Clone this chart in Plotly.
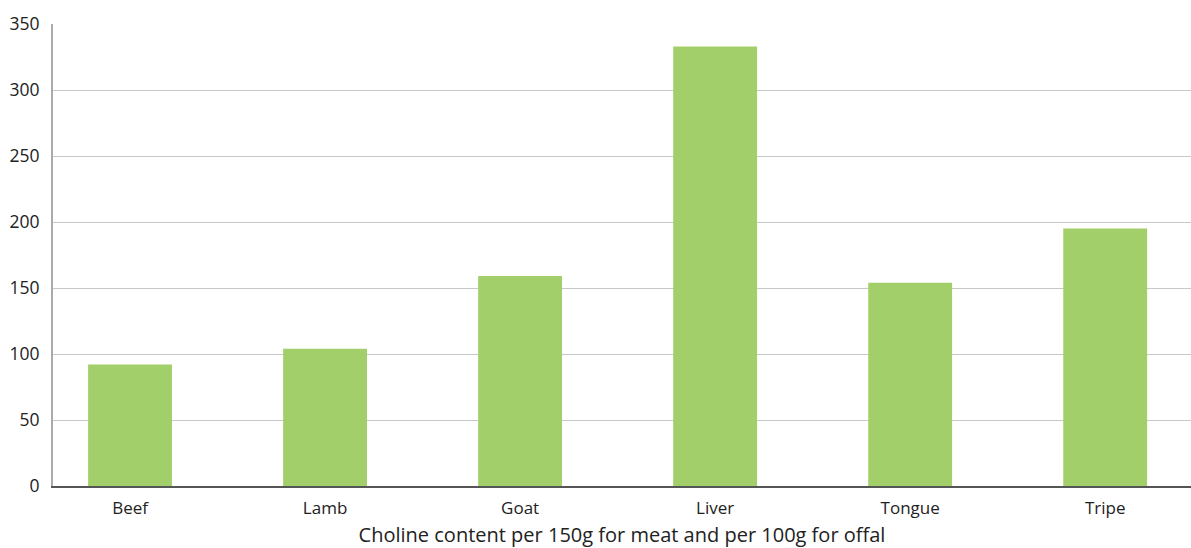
import plotly.graph_objects as go

categories = ["Beef", "Lamb", "Goat", "Liver", "Tongue", "Tripe"]
choline_mg = [92, 104, 159, 333, 154, 195]
y_ticks = [0, 50, 100, 150, 200, 250, 300, 350]

fig = go.Figure(
    go.Bar(
        x=categories,
        y=choline_mg,
        width=0.43,
        marker=dict(color="#a2cf69", line=dict(width=0)),
        hoverinfo="x+y",
    )
)

fig.update_layout(
    width=1191,
    height=548,
    margin=dict(l=53, r=0, t=24, b=62),
    paper_bgcolor="white",
    plot_bgcolor="white",
    showlegend=False,
    font=dict(family="Open Sans, sans-serif", size=17, color="#222"),
    xaxis=dict(
        type="category",
        range=[-0.395, 5.44],
        automargin=False,
        showline=True,
        linecolor="#555",
        linewidth=1.5,
        ticks="",
        showgrid=False,
        ticklabelstandoff=6,
        tickfont=dict(size=17, color="#222"),
        title=dict(
            text="Choline content per 150g for meat and per 100g for offal",
            font=dict(size=20, color="#222"),
            standoff=18,
        ),
    ),
    yaxis=dict(
        range=[0, 350],
        tickvals=y_ticks,
        automargin=False,
        showline=True,
        linecolor="#aaa",
        linewidth=2,
        showgrid=True,
        gridcolor="#c8c8c8",
        gridwidth=1.3,
        zeroline=False,
        ticks="",
        ticklabelstandoff=8,
        tickfont=dict(size=17.5, color="#222"),
    ),
)

fig.write_html("out.html")
